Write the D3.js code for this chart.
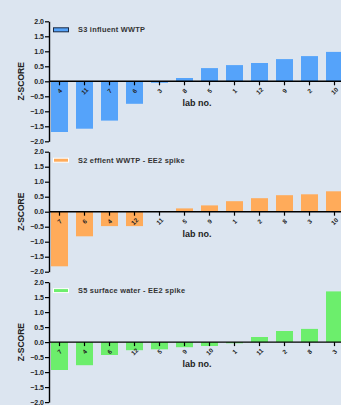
<!DOCTYPE html>
<html><head><meta charset="utf-8">
<script src="https://cdn.jsdelivr.net/npm/d3@7"></script>
<style>
html,body{margin:0;padding:0;background:#dce5f0;overflow:hidden}
svg{display:block;font-family:"Liberation Sans",Arial,sans-serif}
</style></head>
<body>
<script>
const seriesNames = ["S3 influent WWTP", "S2 efflent WWTP - EE2 spike", "S5 surface water - EE2 spike"];
const seriesColors = ["#55a3fa", "#ffab5a", "#6cee6c"];
const labs1 = ["4","11","7","6","3","8","5","1","12","9","2","10"];
const vals1 = [-1.69,-1.58,-1.31,-0.75,-0.05,0.11,0.44,0.54,0.61,0.74,0.84,0.98];
const labs2 = ["7","6","4","12","11","5","9","1","2","8","3","10"];
const vals2 = [-1.82,-0.82,-0.48,-0.48,-0.01,0.11,0.21,0.35,0.45,0.55,0.58,0.68];
const labs3 = ["7","4","6","12","5","9","10","1","11","2","8","3"];
const vals3 = [-0.93,-0.77,-0.43,-0.27,-0.24,-0.17,-0.13,-0.04,0.17,0.37,0.44,1.69];
const yTicks = [-2,-1.5,-1,-0.5,0,0.5,1,1.5,2];

const W = 341, H = 405;
const svg = d3.select("body").append("svg").attr("width", W).attr("height", H);
const panels = [[labs1, vals1], [labs2, vals2], [labs3, vals3]];
const axisX = 49;

panels.forEach((p, i) => {
  const [labs, vals] = p;
  const y0 = 81.3 + i * 130.4;
  const y = d3.scaleLinear().domain([-2, 2]).range([y0 + 60, y0 - 60]);
  const x = d3.scaleBand().domain(labs).range([axisX, axisX + 296]).paddingInner(0.32).paddingOuter(0.08);
  const g = svg.append("g");

  g.selectAll("rect.bar").data(labs).enter().append("rect")
    .attr("class", "bar")
    .attr("x", d => x(d))
    .attr("width", x.bandwidth())
    .attr("y", (d, j) => Math.min(y(vals[j]), y(0)))
    .attr("height", (d, j) => Math.abs(y(vals[j]) - y(0)))
    .attr("fill", seriesColors[i]);

  const ya = d3.axisLeft(y).tickValues(yTicks).tickFormat(d3.format(".1f")).tickSize(4).tickSizeOuter(0);
  const yg = g.append("g").attr("transform", `translate(${axisX},0)`).call(ya);
  yg.select(".domain").attr("stroke", "#000").attr("stroke-width", 1.4);
  yg.selectAll(".tick line").attr("stroke", "#000").attr("stroke-width", 1.2);
  yg.selectAll(".tick text").attr("font-size", 7).attr("font-weight", "bold").attr("fill", "#222").attr("x", -5);

  const xa = d3.axisBottom(x).tickSize(4).tickSizeOuter(0).tickFormat("");
  const xg = g.append("g").attr("transform", `translate(0,${y(0)})`).call(xa);
  xg.select(".domain").attr("d", `M${axisX},0H${W + 10}`).attr("stroke", "#000").attr("stroke-width", 1.4);
  xg.selectAll(".tick line").attr("stroke", "#000").attr("stroke-width", 1.2);

  g.selectAll("text.xl").data(labs).enter().append("text")
    .attr("class", "xl")
    .attr("transform", d => `translate(${x(d) + x.bandwidth() / 2},${y(0) + 9.5}) rotate(-45)`)
    .attr("text-anchor", "middle").attr("dominant-baseline", "central")
    .attr("font-size", 6.3).attr("font-weight", "bold").attr("fill", "#222")
    .text(d => d);

  g.append("text").attr("x", 197).attr("y", y(0) + 25)
    .attr("text-anchor", "middle").attr("font-size", 9).attr("font-weight", "bold").attr("fill", "#222")
    .text("lab no.");

  g.append("text").attr("transform", `translate(23.5,${y0}) rotate(-90)`)
    .attr("text-anchor", "middle").attr("font-size", 8.5).attr("font-weight", "bold").attr("fill", "#222")
    .text("Z-SCORE");

  g.append("rect").attr("x", 53.5).attr("y", y0 - 53.5).attr("width", 15).attr("height", 4)
    .attr("fill", seriesColors[i]).attr("stroke", i === 0 ? "#1a2a44" : "#ffffff").attr("stroke-width", 1);
  g.append("text").attr("x", 78).attr("y", y0 - 49)
    .attr("font-size", 7.4).attr("font-weight", "bold").attr("letter-spacing", 0.25).attr("fill", "#333")
    .text(seriesNames[i]);
});
</script>
</body></html>
